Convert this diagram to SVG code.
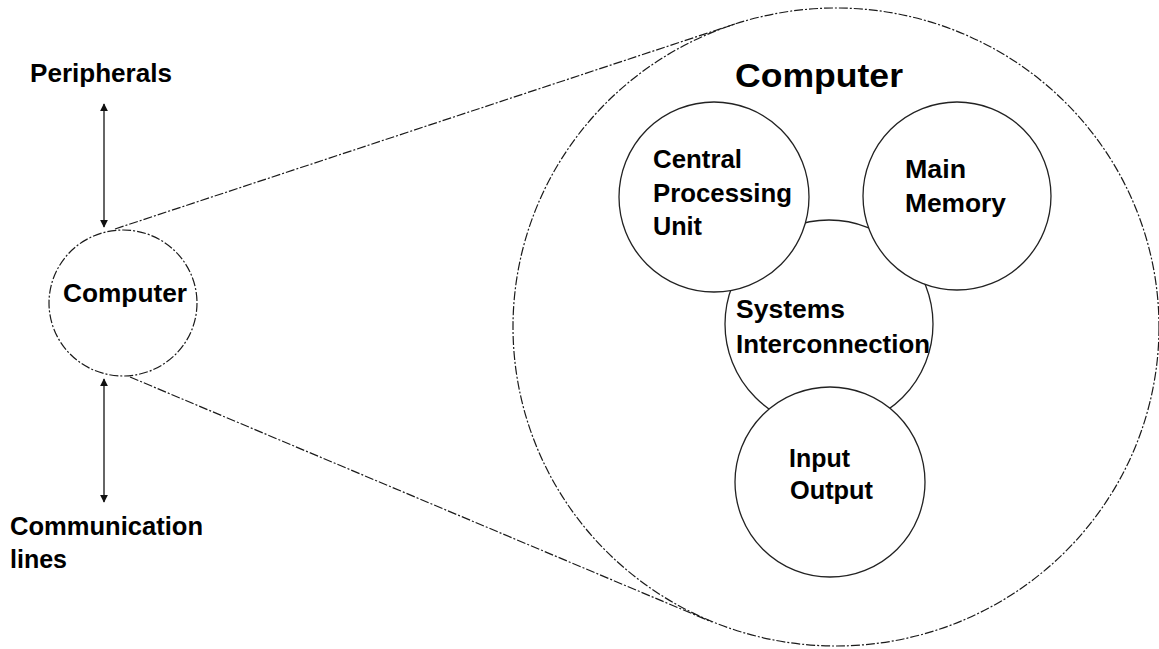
<svg xmlns="http://www.w3.org/2000/svg" width="1159" height="649" viewBox="0 0 1159 649">
  <style>
    text { font-family: "Liberation Sans", Arial, sans-serif; font-weight: bold; fill: #000; }
    .lbl { font-size: 26px; }
    .title { font-size: 34px; }
    .outline { fill: none; stroke: #1a1a1a; stroke-width: 1.2; stroke-dasharray: 9 2 2 2; }
    .part { fill: #fff; stroke: #222; stroke-width: 1.3; }
    .arrow { stroke: #333; stroke-width: 1.5; fill: none; marker-start: url(#head); marker-end: url(#head); }
  </style>
  <defs>
    <marker id="head" viewBox="0 0 10 10" refX="9" refY="5" markerWidth="8" markerHeight="8" orient="auto-start-reverse" markerUnits="userSpaceOnUse">
      <path d="M0,0 L10,5 L0,10 z" fill="#111"/>
    </marker>
  </defs>
  <rect width="1159" height="649" fill="#fff"/>

  <!-- enlarged view of the computer -->
  <g id="computer-detail">
    <ellipse class="outline" cx="836" cy="327" rx="323" ry="319"/>
    <text class="title" x="735" y="87" textLength="168" lengthAdjust="spacingAndGlyphs">Computer</text>
  </g>

  <!-- zoom lines and bidirectional links -->
  <g id="connectors">
    <line class="outline" x1="115" y1="229" x2="735" y2="24"/>
    <line class="outline" x1="130" y1="377" x2="712" y2="622"/>
    <line class="arrow" x1="104" y1="104" x2="104" y2="227"/>
    <line class="arrow" x1="104" y1="379" x2="104" y2="502"/>
  </g>

  <g id="peripherals">
    <text class="lbl" x="30" y="82" textLength="142" lengthAdjust="spacingAndGlyphs">Peripherals</text>
  </g>

  <g id="communication-lines">
    <text class="lbl" x="10" y="535" textLength="193" lengthAdjust="spacingAndGlyphs">Communication</text>
    <text class="lbl" x="10" y="568" textLength="57" lengthAdjust="spacingAndGlyphs">lines</text>
  </g>

  <g id="computer">
    <ellipse class="outline" cx="123" cy="303" rx="74" ry="73"/>
    <text class="lbl" x="63" y="302" textLength="124" lengthAdjust="spacingAndGlyphs">Computer</text>
  </g>

  <g id="systems-interconnection">
    <circle class="part" cx="829" cy="324" r="104"/>
    <text class="lbl" x="736" y="318" textLength="109" lengthAdjust="spacingAndGlyphs">Systems</text>
    <text class="lbl" x="736" y="353" textLength="194" lengthAdjust="spacingAndGlyphs">Interconnection</text>
  </g>

  <g id="cpu">
    <circle class="part" cx="714" cy="197" r="95"/>
    <text class="lbl" x="653" y="168" textLength="89" lengthAdjust="spacingAndGlyphs">Central</text>
    <text class="lbl" x="653" y="202" textLength="139" lengthAdjust="spacingAndGlyphs">Processing</text>
    <text class="lbl" x="653" y="235" textLength="49" lengthAdjust="spacingAndGlyphs">Unit</text>
  </g>

  <g id="main-memory">
    <circle class="part" cx="957" cy="196" r="94"/>
    <text class="lbl" x="905" y="178" textLength="61" lengthAdjust="spacingAndGlyphs">Main</text>
    <text class="lbl" x="905" y="212" textLength="101" lengthAdjust="spacingAndGlyphs">Memory</text>
  </g>

  <g id="input-output">
    <circle class="part" cx="830" cy="482" r="95"/>
    <text class="lbl" x="789" y="467" textLength="61" lengthAdjust="spacingAndGlyphs">Input</text>
    <text class="lbl" x="790" y="499" textLength="83" lengthAdjust="spacingAndGlyphs">Output</text>
  </g>
</svg>
